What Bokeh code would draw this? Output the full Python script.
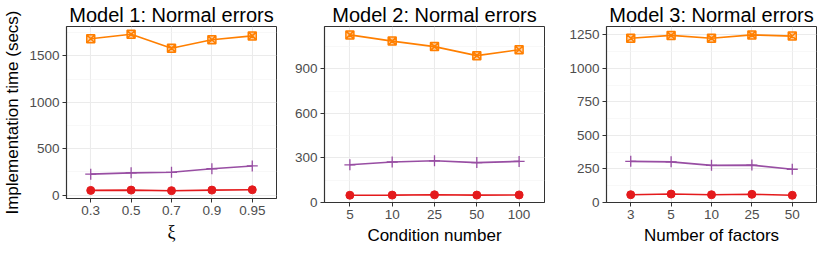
from bokeh.plotting import figure
from bokeh.layouts import row
from bokeh.models import FactorRange, Range1d, FixedTicker
from bokeh.embed import file_html
from bokeh.resources import INLINE

# ---- data ----
xi_levels = ["0.3", "0.5", "0.7", "0.9", "0.95"]
cond_levels = ["5", "10", "25", "50", "100"]
nfac_levels = ["3", "5", "10", "25", "50"]

m1_orange = [1683, 1731, 1582, 1673, 1714]
m1_purple = [226, 240, 246, 284, 314]
m1_red = [51, 54, 48, 54, 58]

m2_orange = [1130, 1088, 1051, 990, 1030]
m2_purple = [254, 273, 281, 269, 277]
m2_red = [49, 50, 52, 50, 51]

m3_orange = [1225, 1246, 1225, 1250, 1241]
m3_purple = [307, 303, 277, 279, 248]
m3_red = [58, 63, 58, 61, 54]

m1_yticks = [0, 500, 1000, 1500]
m1_yminor = [250, 750, 1250, 1750]
m2_yticks = [0, 300, 600, 900]
m2_yminor = [150, 450, 750, 1050]
m3_yticks = [0, 250, 500, 750, 1000, 1250]
m3_yminor = [125, 375, 625, 875, 1125]

titles = ["Model 1: Normal errors", "Model 2: Normal errors", "Model 3: Normal errors"]
xlabels = ["\u03be", "Condition number", "Number of factors"]
ylabel = "Implementation time (secs)"

ORANGE = "#FF7F00"
PURPLE = "#984EA3"
RED = "#E41A1C"
FONT = "Liberation Sans"


def make_panel(title, levels, orange, purple, red, ticks, minor, lo, hi,
               fw, fh, mbl, mbr, mbt, mbb, xlabel, ylab=None, xfont=FONT, xsize="17px"):
    p = figure(x_range=FactorRange(*levels, range_padding=0.1, range_padding_units="absolute"),
               y_range=Range1d(lo, hi),
               frame_width=fw, frame_height=fh,
               min_border_left=mbl, min_border_right=mbr,
               min_border_top=mbt, min_border_bottom=mbb,
               output_backend="svg", toolbar_location=None,
               background_fill_color="white", border_fill_color="white")
    p.title.text = title
    p.title.align = "center"
    p.title.text_font = FONT
    p.title.text_font_size = "20px"
    p.title.text_font_style = "normal"
    p.title.text_color = "black"
    p.title.standoff = 2

    p.outline_line_color = "#333333"
    p.outline_line_width = 1

    tk = FixedTicker(ticks=ticks, minor_ticks=minor)
    p.yaxis.ticker = tk
    p.ygrid.ticker = tk
    p.ygrid.grid_line_color = "#EBEBEB"
    p.ygrid.grid_line_width = 1.1
    p.ygrid.minor_grid_line_color = "#F3F3F3"
    p.ygrid.minor_grid_line_width = 0.6
    p.xgrid.grid_line_color = "#EBEBEB"
    p.xgrid.grid_line_width = 1.1

    for ax in (p.xaxis[0], p.yaxis[0]):
        ax.axis_line_color = "#333333"
        ax.axis_line_width = 1.2
        ax.major_tick_line_color = "#333333"
        ax.major_tick_in = 0
        ax.major_tick_out = 4
        ax.minor_tick_line_color = None
        ax.major_label_text_font = FONT
        ax.major_label_text_font_size = "13.5px"
        ax.major_label_text_color = "#4D4D4D"
        ax.major_label_standoff = 3
        ax.axis_label_text_font = FONT
        ax.axis_label_text_font_size = "17px"
        ax.axis_label_text_font_style = "normal"
        ax.axis_label_text_color = "black"
        ax.axis_label_standoff = 4

    p.xaxis.axis_label = xlabel
    p.xaxis.axis_label_text_font = xfont
    p.xaxis.axis_label_text_font_size = xsize
    p.xaxis.major_label_orientation = "horizontal"
    if ylab:
        p.yaxis.axis_label = ylab

    p.line(levels, orange, line_color=ORANGE, line_width=1.6)
    p.scatter(levels, orange, marker="square_x", size=8, line_color=ORANGE,
              fill_color=ORANGE, fill_alpha=0.35, line_width=1.5)
    p.line(levels, purple, line_color=PURPLE, line_width=1.6)
    p.scatter(levels, purple, marker="cross", size=11, line_color=PURPLE, line_width=1.3)
    p.line(levels, red, line_color=RED, line_width=1.6)
    p.scatter(levels, red, marker="circle", size=8, line_color=RED, fill_color=RED)
    return p


def rng_full(*series):
    vals = [v for s in series for v in s]
    mn, mx = min(vals), max(vals)
    span = mx - mn
    return mn - 0.05 * span, mx + 0.05 * span


def rng_zero(*series):
    vals = [v for s in series for v in s]
    mx = max(vals)
    return 0, mx * 1.05


lo1, hi1 = rng_full(m1_orange, m1_purple, m1_red)
lo2, hi2 = rng_zero(m2_orange, m2_purple, m2_red)
lo3, hi3 = rng_zero(m3_orange, m3_purple, m3_red)

TOP = 24
H1 = 172
H2 = 176
p1 = make_panel(titles[0], xi_levels, m1_orange, m1_purple, m1_red, m1_yticks, m1_yminor,
                lo1, hi1, 210, H1, 62, 6, TOP, 238 - TOP - H1, xlabels[0], ylab=ylabel,
                xfont="Liberation Serif", xsize="18px")
p2 = make_panel(titles[1], cond_levels, m2_orange, m2_purple, m2_red, m2_yticks, m2_yminor,
                lo2, hi2, 220, H2, 42, 6, TOP, 238 - TOP - H2, xlabels[1])
p3 = make_panel(titles[2], nfac_levels, m3_orange, m3_purple, m3_red, m3_yticks, m3_yminor,
                lo3, hi3, 210, H2, 56, 2, TOP, 238 - TOP - H2, xlabels[2])

layout = row(p1, p2, p3, spacing=0)
open("out.html", "w").write(file_html(layout, INLINE))
